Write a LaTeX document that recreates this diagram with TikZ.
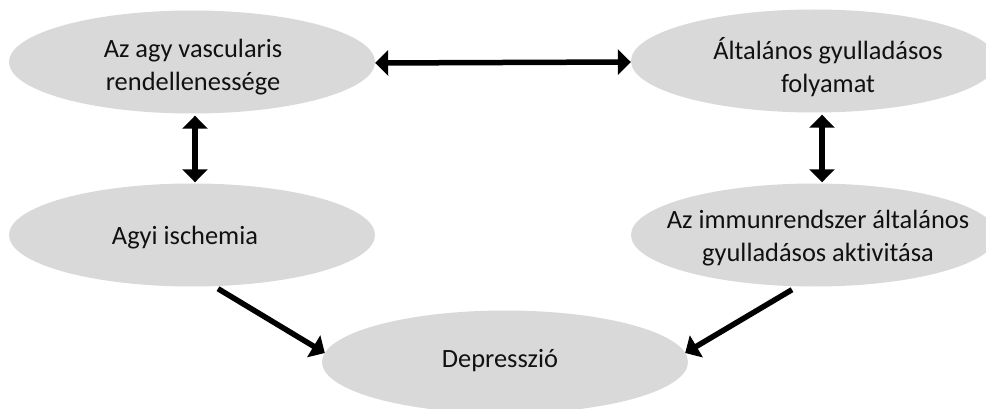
\documentclass[tikz,border=0pt]{standalone}
\usepackage{fontspec}
\setmainfont[RawFeature=-liga]{Carlito}
\usetikzlibrary{shapes.geometric,arrows.meta}
\definecolor{blobgray}{HTML}{D9D9D9}
\definecolor{inkc}{HTML}{111111}
\tikzset{
  blob/.style={ellipse, fill=blobgray, draw=none, minimum width=366pt, minimum height=103pt, inner sep=0pt},
  lbl/.style={align=center, font=\fontsize{26.4}{32.5}\selectfont, text=inkc, inner sep=0pt},
  twoway/.style={line width=5.5pt, draw=black, {Triangle[length=13pt,width=25pt]}-{Triangle[length=13pt,width=25pt]}},
  oneway/.style={line width=5.5pt, draw=black, -{Triangle[length=13pt,width=25pt]}}
}
\begin{document}
\begin{tikzpicture}[x=1pt,y=-1pt]
\useasboundingbox (0,0) rectangle (986,409);
\clip (0,0) rectangle (986,409);
\fill[white] (0,0) rectangle (986,409);
% ellipses
\node[blob] (tl) at (192,62) {};
\node[blob] (tr) at (814,61) {};
\node[blob] (ml) at (192,235) {};
\node[blob] (mr) at (814,235) {};
\node[blob] (bt) at (505,362) {};
% texts
\node[lbl] (tlt) at (193,67) {Az agy vascularis\\rendellenessége};
\node[lbl] (trt) at (828,67) {Általános gyulladásos\\folyamat};
\node[lbl] (mlt) at (185,238) {Agyi ischemia};
\node[lbl] (mrt) at (818,238) {Az immunrendszer általános\\gyulladásos aktivitása};
\node[lbl] (btt) at (500,361) {Depresszió};
% connectors
\draw[twoway] ([yshift=-1pt]tl.east) -- ([yshift=-1pt]tr.west);
\draw[twoway] ([xshift=3pt,yshift=-2pt]tl.south) -- ([xshift=3pt,yshift=1pt]ml.north);
\draw[twoway] ([xshift=8pt,yshift=-2pt]tr.south) -- ([xshift=8pt,yshift=1pt]mr.north);
\draw[oneway] ([xshift=26pt,yshift=-2pt]ml.south) -- ([xshift=3pt,yshift=9pt]bt.west);
\draw[oneway] ([xshift=-22pt,yshift=-3pt]mr.south) -- ([xshift=-3pt,yshift=9pt]bt.east);
\end{tikzpicture}
\end{document}
